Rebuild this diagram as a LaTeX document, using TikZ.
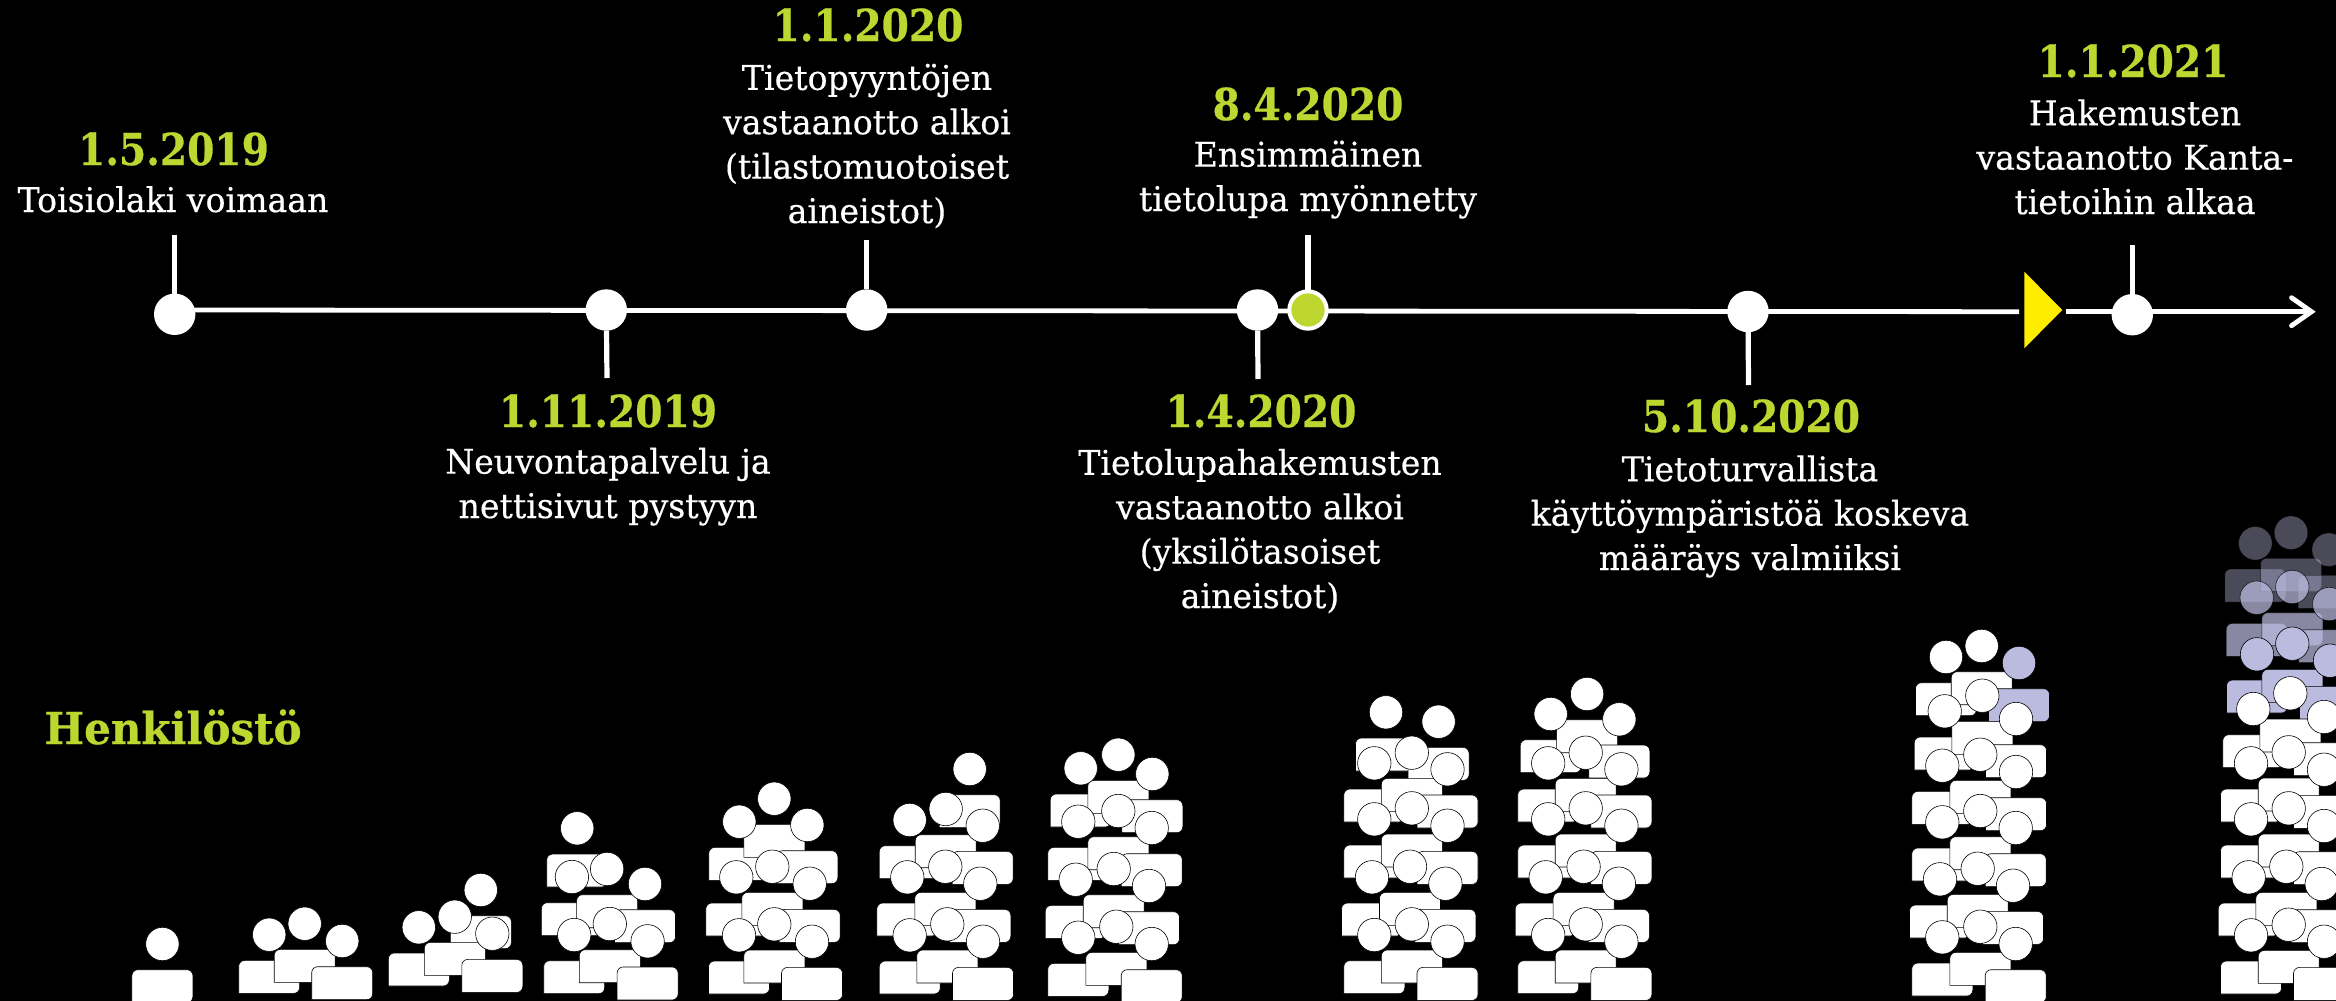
\documentclass[tikz,border=0pt]{standalone}
\usepackage{fontspec}
\usetikzlibrary{arrows.meta}
\setmainfont{DejaVu Serif}[FakeStretch=0.975,FakeBold=0.4]
\newfontface\datefont{DejaVu Serif Bold}[FakeStretch=0.89,FakeBold=0.6]
\newfontface\headfont{DejaVu Serif Bold}[FakeStretch=0.955,FakeBold=0.6]
\definecolor{lime}{RGB}{190,214,48}
\definecolor{sunny}{RGB}{255,237,0}
\definecolor{lavender}{RGB}{187,187,224}
\tikzset{
  every node/.style={inner sep=0pt,outer sep=0pt},
  axisline/.style={draw=white,line width=2.4pt},
  tick/.style={draw=white,line width=2.6pt},
  event/.style={circle,fill=white,minimum size=20.7pt},
  eventgreen/.style={circle,fill=lime,draw=white,line width=2pt,minimum size=18.7pt},
  datelabel/.style={anchor=base,text=lime,font=\datefont\fontsize{22}{26}\selectfont},
  desc/.style={anchor=base,text=white,align=center,font=\fontsize{17}{22.2}\selectfont},
  pw/.style={fill=white,draw=black,line width=.3pt},
  pl/.style={fill=lavender,draw=black,line width=.3pt},
  pm/.style={fill=lavender,draw=black,line width=.3pt,opacity=.73},
  pd/.style={fill=lavender,draw=black,line width=.3pt,opacity=.4},
}
\newcommand\crowd[1]{%
  \foreach \x/\y/\s in {#1}{%
    \draw[\s] ({\x-30.5},{\y+58.7}) {[rounded corners=3pt] -- ({\x-30.5},{\y+25.7}) -- ({\x+30.5},{\y+25.7}) -- ({\x+30.5},{\y+58.7})} -- cycle;}%
  \foreach \x/\y/\s in {#1}{%
    \draw[\s] (\x,\y) circle (16.7);}%
}
\begin{document}
\begin{tikzpicture}[x=0.5pt,y=-0.5pt]
\useasboundingbox (0,0) rectangle (2336,1001);
\clip (0,0) rectangle (2336,1001);
\fill[black] (0,0) rectangle (2336,1001);
% axis
\coordinate (a0) at (174.7,310);
\coordinate (a1) at (2019,311.7);
\coordinate (a2) at (2065.7,311.7);
\coordinate (a3) at (2315.7,311.7);
\draw[axisline] (a0) -- (a1);
\draw[axisline,-{Straight Barb[length=10pt,width=14pt,line cap=round]}] (a2) -- (a3);
\fill[sunny] (2024.3,271.7) -- (2062.3,310) -- (2024.3,348.3) -- cycle;
\node[event] (c1) at (174.7,314.3) {};
\node[event] (c2) at (606.3,310) {};
\node[event] (c3) at (866.7,310) {};
\node[event] (c4) at (1257.5,310) {};
\node[eventgreen] (c5) at (1308,310) {};
\node[event] (c6) at (1748,311.5) {};
\node[event] (c7) at (2132.3,314.7) {};
\coordinate (t1) at (174.7,235);
\coordinate (t2) at (607,378);
\coordinate (t3) at (866.7,240);
\coordinate (t4) at (1258,379);
\coordinate (t5) at (1308,235);
\coordinate (t6) at (1748.5,385);
\coordinate (t7) at (2132.3,245);
\draw[tick] (t1) -- (c1);
\draw[tick] (t2) -- (c2);
\draw[tick] (t3) -- (c3);
\draw[tick] (t4) -- (c4);
\draw[tick] (t5) -- (c5);
\draw[tick] (t6) -- (c6);
\draw[tick] (t7) -- (c7);
% labels
\node[datelabel] (d1) at (173.5,165) {1.5.2019};
\node[desc] (x1) at (173,212) {Toisiolaki voimaan};
\node[datelabel] (d2) at (608,427) {1.11.2019};
\node[desc] (x2) at (608,518) {Neuvontapalvelu ja\\nettisivut pystyyn};
\node[datelabel] (d3) at (868,41) {1.1.2020};
\node[desc] (x3) at (867,223) {Tietopyyntöjen\\vastaanotto alkoi\\(tilastomuotoiset\\aineistot)};
\node[datelabel] (d4) at (1261,427) {1.4.2020};
\node[desc] (x4) at (1260,608) {Tietolupahakemusten\\vastaanotto alkoi\\(yksilötasoiset\\aineistot)};
\node[datelabel] (d5) at (1308,120) {8.4.2020};
\node[desc] (x5) at (1308,211) {Ensimmäinen\\tietolupa myönnetty};
\node[datelabel] (d6) at (1751,432) {5.10.2020};
\node[desc] (x6) at (1750,570) {Tietoturvallista\\käyttöympäristöä koskeva\\määräys valmiiksi};
\node[datelabel] (d7) at (2133,77) {1.1.2021};
\node[desc] (x7) at (2135,214) {Hakemusten\\vastaanotto Kanta-\\tietoihin alkaa};
\node[anchor=base,text=lime,font=\headfont\fontsize{22}{26}\selectfont] (h) at (173,744) {Henkilöstö};
% people
\crowd{162.4/944/pw}
\crowd{269.2/934.7/pw,304.7/923.7/pw,342.2/941/pw}
\crowd{480.8/890/pw,418.8/927.3/pw,454.8/916.7/pw,492.3/933.7/pw}
\crowd{577.2/828.3/pw,571.9/877/pw,607.1/869/pw,645/884/pw,574.2/935/pw,609.8/924/pw,647.6/941.3/pw}
\crowd{739.3/821.7/pw,774.3/798.7/pw,807.3/825/pw,736.3/877.3/pw,772.3/866.7/pw,809.7/883.7/pw,739/935.3/pw,774.3/924.3/pw,812/941.7/pw}
\crowd{969.7/769/pw,909.7/820/pw,945.7/809/pw,982.7/825.7/pw,907.3/877.3/pw,945.3/866.7/pw,980.3/883.7/pw,909.7/935.3/pw,947.3/924.3/pw,983/941.7/pw}
\crowd{1080.7/768.3/pw,1118.3/754.7/pw,1152.3/774/pw,1078.3/821.7/pw,1118.3/811/pw,1151.7/828/pw,1075.7/879.7/pw,1113.7/869/pw,1149/886/pw,1078.3/937.7/pw,1116.3/926.7/pw,1151.7/944/pw}
\crowd{1386/712.3/pw,1438.6/721.7/pw,1374.3/763.3/pw,1411.8/752.7/pw,1447.5/769.3/pw,1374.3/819.3/pw,1411.8/808.3/pw,1447.5/825.7/pw,1372/877.3/pw,1410/866.7/pw,1445.4/883.7/pw,1374.3/935/pw,1411.8/924.3/pw,1447.5/941.7/pw}
\crowd{1550.7/714/pw,1587.1/694/pw,1619.3/719.3/pw,1548.2/763.3/pw,1585.7/752.7/pw,1621.4/769.3/pw,1548.2/819.3/pw,1585.7/808.3/pw,1621.4/825.7/pw,1545.7/877.3/pw,1583.6/866.7/pw,1618.9/883.7/pw,1548.2/935/pw,1585.7/924.3/pw,1621.4/941.7/pw}
\crowd{1946/657/pw,1981.7/646/pw,2019/663/pl,1944.7/711.3/pw,1982.3/695.7/pw,2016/719/pw,1942.3/765.7/pw,1980.3/754.7/pw,2016/772/pw,1942.3/822.3/pw,1980.3/811/pw,2015.7/828/pw,1940/879.3/pw,1977.7/868.7/pw,2013/885.7/pw,1942.3/937.3/pw,1980.3/926.7/pw,2015.7/944/pw}
\crowd{2255.3/543.3/pd,2291/532.7/pd,2328.7/549.7/pd,2256.7/597.7/pm,2292.3/587/pm,2329.3/604/pm,2257/654.3/pl,2292.3/643.7/pl,2330/660.7/pl,2253.3/709/pw,2290.3/693.3/pw,2324/717/pw,2251/763.3/pw,2288.7/752.3/pw,2324/769.7/pw,2251/819.3/pw,2288.7/808.3/pw,2324/826/pw,2248.7/877.3/pw,2286.3/866.7/pw,2321.7/884/pw,2251/935.3/pw,2288.7/924.7/pw,2324/941.7/pw}
\end{tikzpicture}
\end{document}
